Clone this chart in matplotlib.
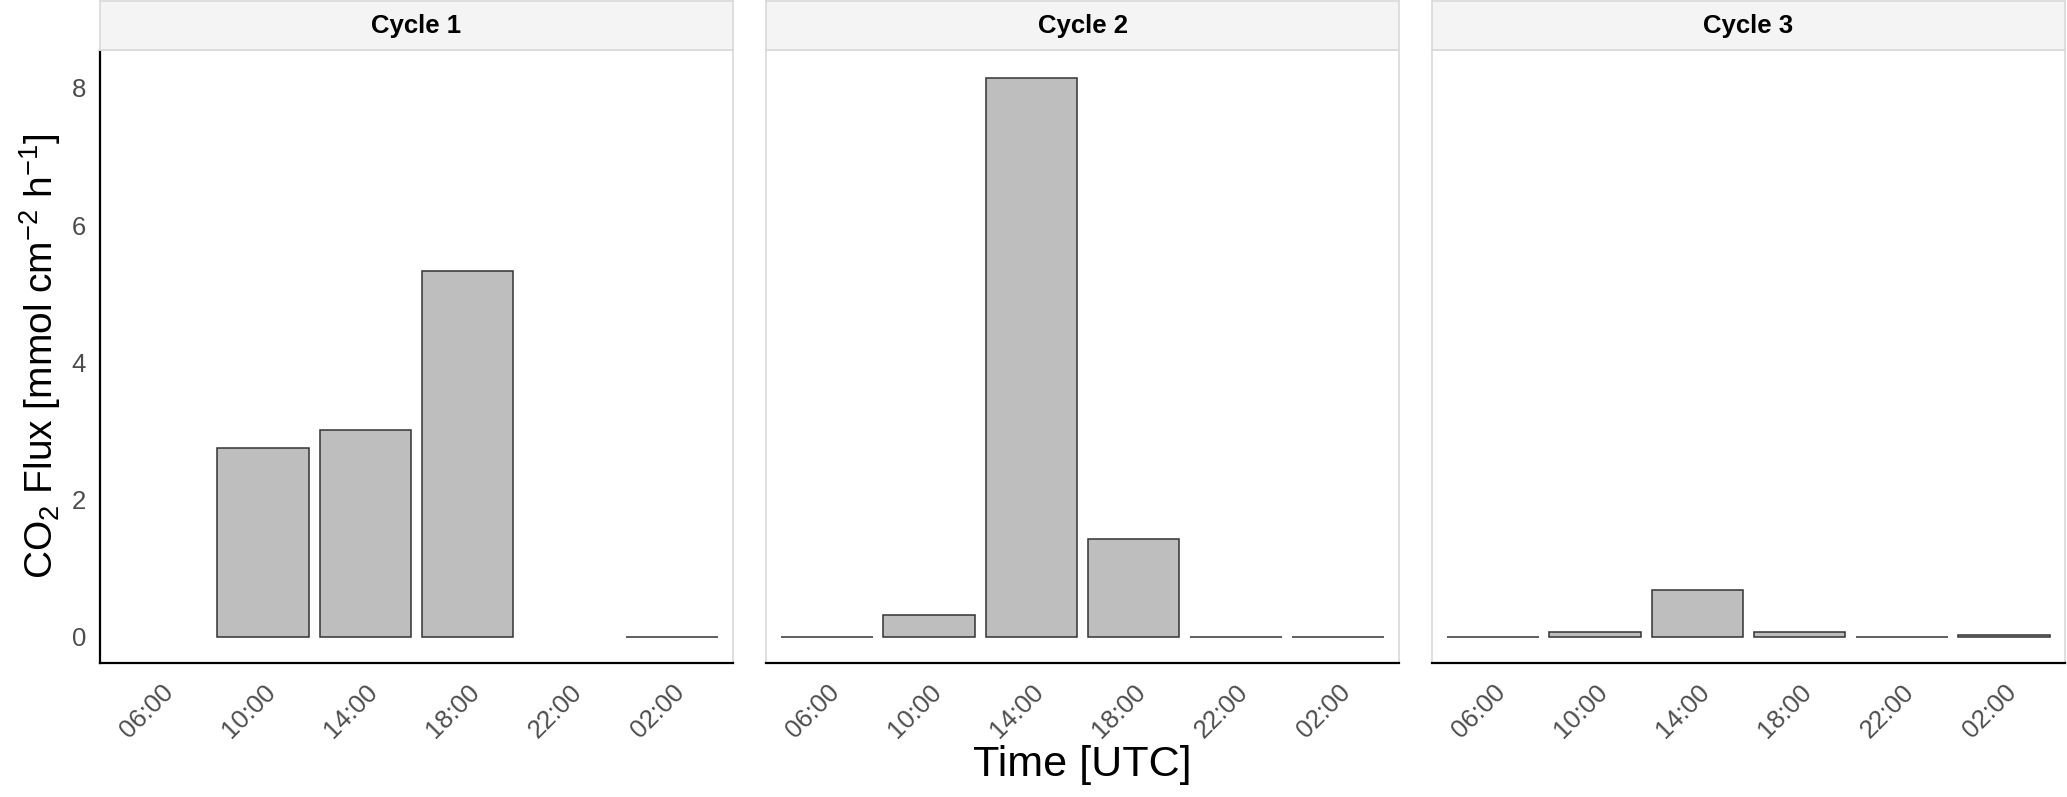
import numpy as np
import matplotlib
matplotlib.use("Agg")
import matplotlib.pyplot as plt

plt.rcParams["font.family"] = ["Liberation Sans", "DejaVu Sans"]
plt.rcParams["mathtext.fontset"] = "custom"
plt.rcParams["mathtext.rm"] = "Liberation Sans"
plt.rcParams["mathtext.it"] = "Liberation Sans:italic"
plt.rcParams["mathtext.bf"] = "Liberation Sans:bold"

# CO2 flux per sampling time, one list per cycle (NaN = no measurement)
times = ["06:00", "10:00", "14:00", "18:00", "22:00", "02:00"]
cycle_names = ["Cycle 1", "Cycle 2", "Cycle 3"]
cycle1 = [np.nan, 2.75, 3.02, 5.33, np.nan, 0.0]
cycle2 = [0.0, 0.32, 8.14, 1.43, 0.0, 0.0]
cycle3 = [0.0, 0.07, 0.69, 0.07, 0.0, 0.03]
cycles = [cycle1, cycle2, cycle3]

W, H = 2067, 797
fig = plt.figure(figsize=(W / 100, H / 100), dpi=100)

panel_left = [100, 766, 1432]
panel_w = 633
panel_top, panel_bot = 50, 663
strip_top = 1

border = "#D9D9D9"
tick_col = "#4D4D4D"

for i, (name, vals) in enumerate(zip(cycle_names, cycles)):
    x0 = panel_left[i]
    ax = fig.add_axes([x0 / W, (H - panel_bot) / H, panel_w / W, (panel_bot - panel_top) / H])
    pos = np.arange(1, len(times) + 1)
    ax.bar(pos, vals, width=0.9, color="#BEBEBE", edgecolor="#333333", linewidth=1.1)
    ax.set_xlim(0.4, len(times) + 0.6)
    ax.set_ylim(-0.38, 8.55)
    ax.set_xticks(pos)
    ax.set_xticklabels(times, rotation=45, ha="right", va="top",
                       rotation_mode="anchor", fontsize=18.5, color=tick_col)
    ax.set_yticks([0, 2, 4, 6, 8])
    ax.tick_params(axis="both", length=0)
    ax.tick_params(axis="x", pad=12)
    ax.tick_params(axis="y", pad=10, labelsize=18.5, labelcolor=tick_col)
    for s in ["top", "right", "left"]:
        ax.spines[s].set_color(border)
        ax.spines[s].set_linewidth(1.2)
    ax.spines["bottom"].set_color("black")
    ax.spines["bottom"].set_linewidth(1.6)
    if i == 0:
        ax.spines["left"].set_color("black")
        ax.spines["left"].set_linewidth(1.6)
        ax.set_ylabel(r"CO$_2$ Flux [mmol cm$^{-2}$ h$^{-1}$]", fontsize=28, labelpad=6)
    else:
        ax.set_yticklabels([])
    if i == 1:
        ax.set_xlabel("Time [UTC]", fontsize=31, labelpad=2)

    # facet strip
    sax = fig.add_axes([x0 / W, (H - panel_top) / H, panel_w / W, (panel_top - strip_top) / H])
    sax.set_facecolor("#F4F4F4")
    sax.set_xticks([])
    sax.set_yticks([])
    for s in sax.spines.values():
        s.set_color(border)
        s.set_linewidth(1.2)
    sax.text(0.5, 0.5, name, ha="center", va="center", fontsize=18.5,
             fontweight="bold", transform=sax.transAxes)

fig.savefig("out.png", dpi=100)
